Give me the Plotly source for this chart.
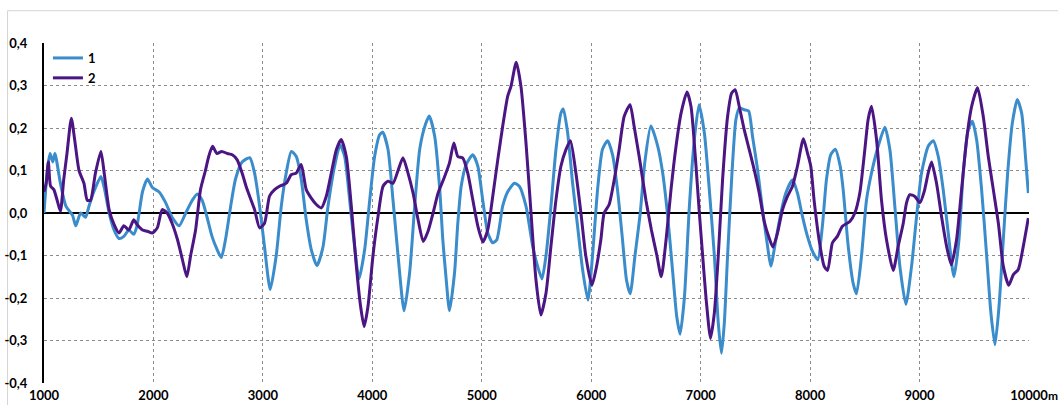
import plotly.graph_objects as go

# Series 1 (light blue)
x1 = [1000, 1030, 1055, 1080, 1100, 1150, 1200, 1260, 1290, 1335, 1380, 1410, 1455, 1520, 1550,
      1595, 1640, 1685, 1730, 1775, 1820, 1850, 1900, 1945, 1990, 2050, 2110, 2170, 2235, 2295,
      2355, 2400, 2445, 2490, 2535, 2580, 2620, 2660, 2705, 2750, 2810, 2880, 2924, 2970, 3015,
      3067, 3122, 3168, 3213, 3260, 3305, 3350, 3396, 3442, 3494, 3549, 3595, 3655, 3705, 3747,
      3793, 3838, 3878, 3930, 3976, 4021, 4067, 4095, 4143, 4189, 4235, 4290, 4341, 4387, 4433,
      4485, 4520, 4570, 4616, 4644, 4675, 4705, 4751, 4781, 4812, 4857, 4918, 4964, 5009, 5055,
      5100, 5137, 5191, 5237, 5298, 5343, 5404, 5465, 5510, 5550, 5587, 5632, 5678, 5723, 5745,
      5784, 5830, 5875, 5921, 5970, 6012, 6058, 6103, 6150, 6195, 6240, 6286, 6322, 6356, 6400,
      6448, 6490, 6545, 6608, 6653, 6699, 6745, 6781, 6812, 6851, 6897, 6942, 6985, 7033, 7079,
      7125, 7161, 7190, 7216, 7246, 7286, 7322, 7353, 7398, 7438, 7474, 7520, 7565, 7611, 7641,
      7687, 7733, 7778, 7839, 7884, 7930, 7976, 8021, 8070, 8112, 8149, 8188, 8230, 8275, 8302,
      8348, 8393, 8424, 8470, 8515, 8561, 8622, 8683, 8729, 8774, 8820, 8875, 8927, 8973, 9018,
      9079, 9125, 9171, 9216, 9262, 9314, 9360, 9399, 9445, 9482, 9521, 9567, 9613, 9652, 9689,
      9726, 9765, 9805, 9848, 9893, 9933, 9970, 9994]
y1 = [0.00, 0.10, 0.14, 0.12, 0.14, 0.07, 0.016, -0.005, -0.03, 0.0, -0.01, 0.015, 0.05, 0.086, 0.06,
      0.0, -0.04, -0.06, -0.055, -0.04, -0.05, -0.03, 0.05, 0.08, 0.06, 0.05, 0.025, -0.01, -0.03, 0.0,
      0.03, 0.045, 0.03, -0.01, -0.055, -0.085, -0.105, -0.06, 0.015, 0.08, 0.12, 0.13, 0.094, 0.016, -0.08,
      -0.18, -0.10, 0.016, 0.094, 0.145, 0.133, 0.08, -0.016, -0.086, -0.124, -0.08, 0.016, 0.11, 0.16, 0.133,
      0.03, -0.08, -0.155, -0.086, 0.03, 0.133, 0.184, 0.19, 0.15, 0.03, -0.10, -0.23, -0.14, 0.016, 0.15,
      0.208, 0.228, 0.18, 0.055, -0.063, -0.157, -0.23, -0.141, -0.024, 0.063, 0.114, 0.137, 0.11, 0.03, -0.047,
      -0.07, -0.063, 0.016, 0.05, 0.07, 0.063, 0.016, -0.078, -0.125, -0.155, -0.10, 0.016, 0.15, 0.235, 0.245,
      0.19, 0.07, -0.03, -0.133, -0.205, -0.10, 0.055, 0.15, 0.17, 0.137, 0.055, -0.063, -0.157, -0.19, -0.10,
      0.0, 0.12, 0.205, 0.157, 0.094, -0.008, -0.141, -0.243, -0.285, -0.20, 0.016, 0.173, 0.255, 0.19, 0.055,
      -0.10, -0.259, -0.33, -0.259, -0.10, 0.094, 0.22, 0.247, 0.243, 0.24, 0.18, 0.102, 0.008, -0.078, -0.125,
      -0.063, 0.0, 0.047, 0.078, 0.047, -0.008, -0.055, -0.09, -0.11, -0.031, 0.078, 0.137, 0.15, 0.11, 0.055,
      -0.078, -0.165, -0.19, -0.10, 0.03, 0.094, 0.157, 0.202, 0.149, 0.016, -0.125, -0.215, -0.125, -0.008, 0.094,
      0.157, 0.17, 0.133, 0.055, -0.047, -0.15, -0.063, 0.094, 0.196, 0.216, 0.173, 0.055, -0.10, -0.235, -0.31,
      -0.22, -0.063, 0.094, 0.212, 0.267, 0.235, 0.125, 0.047]

# Series 2 (dark purple)
x2 = [1000, 1020, 1040, 1060, 1090, 1120, 1150, 1180, 1210, 1250, 1280, 1320, 1365, 1395, 1425,
      1470, 1520, 1550, 1595, 1640, 1685, 1730, 1775, 1820, 1850, 1900, 1945, 1990, 2035, 2080,
      2125, 2170, 2220, 2265, 2305, 2340, 2385, 2430, 2475, 2505, 2540, 2580, 2625, 2675, 2720,
      2765, 2810, 2850, 2878, 2924, 2970, 3015, 3061, 3107, 3152, 3213, 3259, 3305, 3350, 3396,
      3442, 3488, 3534, 3580, 3625, 3671, 3715, 3762, 3808, 3854, 3893, 3925, 3960, 4006, 4052,
      4098, 4143, 4189, 4235, 4280, 4326, 4372, 4418, 4465, 4509, 4555, 4601, 4652, 4705, 4745,
      4781, 4827, 4872, 4918, 4964, 5010, 5055, 5100, 5146, 5191, 5237, 5267, 5315, 5358, 5404,
      5450, 5495, 5540, 5587, 5632, 5678, 5723, 5769, 5810, 5860, 5906, 5951, 6006, 6043, 6088,
      6118, 6164, 6210, 6255, 6301, 6355, 6392, 6440, 6500, 6550, 6600, 6640, 6684, 6729, 6775,
      6821, 6875, 6912, 6951, 6988, 7018, 7049, 7090, 7125, 7161, 7200, 7246, 7283, 7315, 7353,
      7398, 7444, 7489, 7535, 7581, 7626, 7660, 7702, 7748, 7793, 7839, 7884, 7939, 7976, 8006,
      8036, 8082, 8128, 8160, 8204, 8249, 8295, 8363, 8409, 8454, 8500, 8530, 8561, 8607, 8652,
      8698, 8759, 8805, 8851, 8881, 8912, 8957, 9003, 9043, 9079, 9110, 9155, 9201, 9247, 9290,
      9338, 9384, 9430, 9476, 9530, 9582, 9628, 9674, 9720, 9765, 9815, 9857, 9902, 9948, 9994]
y2 = [0.05, 0.07, 0.12, 0.063, 0.055, 0.03, 0.004, 0.078, 0.14, 0.223, 0.173, 0.10, 0.07, 0.03, 0.03,
      0.094, 0.145, 0.094, 0.008, -0.027, -0.047, -0.03, -0.04, -0.016, -0.027, -0.04, -0.043, -0.047, -0.035, 0.008,
      0.0, -0.024, -0.063, -0.11, -0.15, -0.10, -0.04, 0.055, 0.10, 0.133, 0.157, 0.14, 0.145, 0.14, 0.137,
      0.125, 0.094, 0.06, 0.04, 0.008, -0.035, -0.024, 0.04, 0.055, 0.063, 0.07, 0.09, 0.094, 0.114, 0.055,
      0.035, 0.02, 0.012, 0.04, 0.094, 0.149, 0.173, 0.133, 0.016, -0.125, -0.22, -0.267, -0.22, -0.10, -0.008,
      0.063, 0.075, 0.07, 0.10, 0.13, 0.094, 0.047, -0.016, -0.067, -0.043, 0.0, 0.047, 0.08, 0.118, 0.165,
      0.133, 0.129, 0.094, 0.031, -0.031, -0.068, -0.039, 0.039, 0.125, 0.204, 0.275, 0.298, 0.355, 0.298, 0.165,
      0.0, -0.157, -0.24, -0.188, -0.078, 0.031, 0.11, 0.149, 0.17, 0.094, 0.0, -0.102, -0.17, -0.133, -0.063,
      0.0, 0.02, 0.078, 0.149, 0.227, 0.255, 0.204, 0.13, 0.03, -0.04, -0.10, -0.15, -0.063, 0.055, 0.157,
      0.235, 0.285, 0.25, 0.133, 0.0, -0.10, -0.20, -0.295, -0.235, -0.10, 0.078, 0.227, 0.282, 0.29, 0.25,
      0.196, 0.149, 0.102, 0.047, -0.02, -0.059, -0.08, -0.047, 0.008, 0.039, 0.063, 0.11, 0.175, 0.141, 0.11,
      0.031, -0.063, -0.125, -0.135, -0.07, -0.055, -0.031, -0.02, 0.0, 0.047, 0.149, 0.22, 0.251, 0.173, 0.031,
      -0.063, -0.135, -0.078, -0.024, 0.024, 0.043, 0.039, 0.024, 0.051, 0.094, 0.12, 0.07, -0.008, -0.078, -0.122,
      -0.063, 0.055, 0.173, 0.251, 0.295, 0.227, 0.133, 0.055, -0.024, -0.125, -0.17, -0.145, -0.133, -0.078, -0.012]

# Axis ticks
x_ticks = [1000, 2000, 3000, 4000, 5000, 6000, 7000, 8000, 9000, 10000]
x_tick_text = ["1000", "2000", "3000", "4000", "5000", "6000", "7000", "8000", "9000", "10000"]
y_ticks = [-0.4, -0.3, -0.2, -0.1, 0.0, 0.1, 0.2, 0.3, 0.4]
y_tick_text = ["-0,4", "-0,3", "-0,2", "-0,1", "0,0", "0,1", "0,2", "0,3", "0,4"]

FONT = "Lato"
BLUE = "#3a8ccb"
PURPLE = "#4b1583"

fig = go.Figure()
fig.add_trace(go.Scatter(x=x1, y=y1, mode="lines", name="1",
                         line=dict(color=BLUE, width=3, shape="spline", smoothing=0.6)))
fig.add_trace(go.Scatter(x=x2, y=y2, mode="lines", name="2",
                         line=dict(color=PURPLE, width=3, shape="spline", smoothing=0.6)))

fig.update_layout(
    width=1058, height=405,
    margin=dict(l=44, r=29, t=43, b=22),
    paper_bgcolor="white", plot_bgcolor="white",
    font=dict(family=FONT, size=13, color="black"),
    showlegend=True,
    legend=dict(x=0.004, y=1.0, xanchor="left", yanchor="top",
                bgcolor="rgba(0,0,0,0)", font=dict(family=FONT, size=13, color="black", weight="bold"),
                itemwidth=30, tracegroupgap=0),
    xaxis=dict(range=[1000, 10000], tickvals=x_ticks, ticktext=x_tick_text, automargin=False,
               showgrid=True, gridcolor="#8c8c8c", gridwidth=1, griddash="dot",
               showline=False, zeroline=False, ticks="", ticklabelstandoff=3,
               tickfont=dict(family=FONT, size=13, weight="bold")),
    yaxis=dict(range=[-0.4, 0.4], tickvals=y_ticks, ticktext=y_tick_text, automargin=False,
               showgrid=True, gridcolor="#8c8c8c", gridwidth=1, griddash="dot",
               showline=True, linecolor="black", linewidth=2,
               zeroline=True, zerolinecolor="black", zerolinewidth=1.5,
               ticks="", ticklabelstandoff=12,
               tickfont=dict(family=FONT, size=13, weight="bold")),
    shapes=[dict(type="rect", xref="paper", yref="paper",
                 x0=-0.037, x1=1.05, y0=-0.12, y1=1.095,
                 line=dict(color="#d4d4d4", width=1), layer="below")],
    annotations=[dict(text="m", xref="paper", yref="paper", x=1.017, y=0,
                      xanchor="left", yanchor="top", yshift=-3, showarrow=False,
                      font=dict(family=FONT, size=12, weight="bold"))],
)

fig.write_html("out.html")
